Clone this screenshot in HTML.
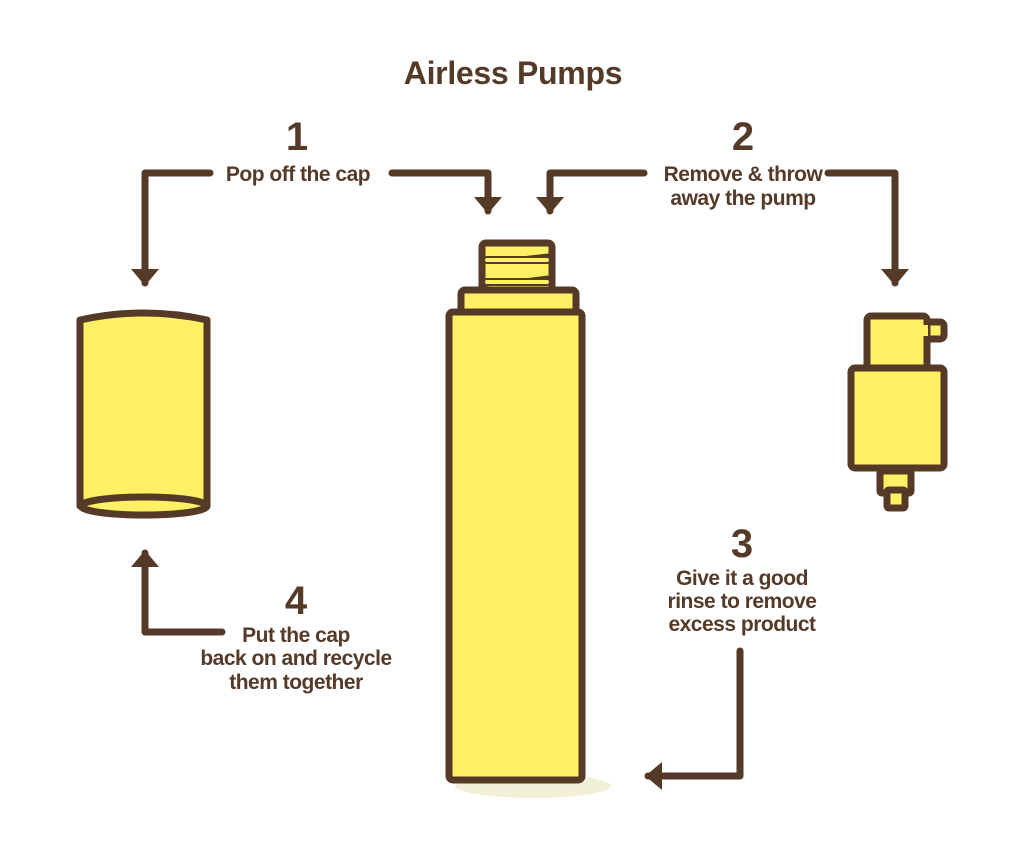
<!DOCTYPE html>
<html><head><meta charset="utf-8"><style>
html,body{margin:0;padding:0;background:#fff;}
svg{display:block;}
text{font-family:"Liberation Sans",sans-serif;fill:#553a28;}
.t{font-weight:bold;font-size:21px;letter-spacing:-0.5px;}
.n{font-weight:bold;font-size:40px;}
</style></head><body>
<svg width="1024" height="862" viewBox="0 0 1024 862">
<defs>
<marker id="a" markerWidth="4" markerHeight="4" refX="2" refY="2" orient="auto" markerUnits="strokeWidth">
<path d="M0,0 L2.4,2 L0,4 Z" fill="#553a28"/>
</marker>
</defs>
<text x="513" y="84" text-anchor="middle" style="font-size:32px;font-weight:bold;letter-spacing:-0.3px">Airless Pumps</text>

<g fill="none" stroke="#553a28" stroke-width="7" stroke-linecap="round" stroke-linejoin="round">
<path d="M210,173 H145 V283" marker-end="url(#a)"/>
<path d="M392,173 H488 V211" marker-end="url(#a)"/>
<path d="M644,173 H550 V211" marker-end="url(#a)"/>
<path d="M828,173 H895 V283" marker-end="url(#a)"/>
<path d="M740,651 V776 H648" marker-end="url(#a)"/>
<path d="M222,632 H145 V553" marker-end="url(#a)"/>
</g>

<text class="n" x="297" y="150" text-anchor="middle">1</text>
<text class="t" x="298" y="181" text-anchor="middle">Pop off the cap</text>
<text class="n" x="743" y="150" text-anchor="middle">2</text>
<text class="t" x="743" y="181" text-anchor="middle">Remove &amp; throw</text>
<text class="t" x="743" y="205" text-anchor="middle">away the pump</text>
<text class="n" x="742" y="557" text-anchor="middle">3</text>
<text class="t" x="742" y="585" text-anchor="middle">Give it a good</text>
<text class="t" x="742" y="608" text-anchor="middle">rinse to remove</text>
<text class="t" x="742" y="631" text-anchor="middle">excess product</text>
<text class="n" x="296" y="614" text-anchor="middle">4</text>
<text class="t" x="296" y="642" text-anchor="middle">Put the cap</text>
<text class="t" x="296" y="665" text-anchor="middle">back on and recycle</text>
<text class="t" x="296" y="689" text-anchor="middle">them together</text>

<ellipse cx="533" cy="786" rx="78" ry="12" fill="#f3f0d8"/>

<g fill="#fff066" stroke="#553a28" stroke-width="7" stroke-linejoin="round">
<path d="M80,320 Q144,306 207,320 V506 H80 Z"/>
<ellipse cx="144" cy="506" rx="63" ry="9"/>
<rect x="482" y="243" width="70" height="50" rx="4"/>
<rect x="461" y="290" width="115" height="25" rx="4"/>
<rect x="449" y="312" width="133" height="468" rx="4"/>
<rect x="880" y="471" width="31" height="22" rx="2"/>
<rect x="887" y="490" width="18" height="18" rx="2"/>
<rect x="916" y="322" width="28" height="17" rx="4"/>
<rect x="867" y="316" width="60" height="55" rx="4"/>
<rect x="851" y="368" width="93" height="100" rx="4"/>
</g>
<rect x="918" y="325" width="10" height="11" fill="#fff066"/>
<g fill="#fff066" stroke="#553a28" stroke-width="3" stroke-linecap="round">
<path d="M486,262 L548,255 M486,285 L548,277"/>
</g>
<g fill="#fff066" stroke="#553a28" stroke-width="2">
<rect x="484" y="257" width="66" height="6" rx="3"/>
<rect x="484" y="279" width="66" height="6" rx="3"/>
</g>
</svg>
</body></html>
